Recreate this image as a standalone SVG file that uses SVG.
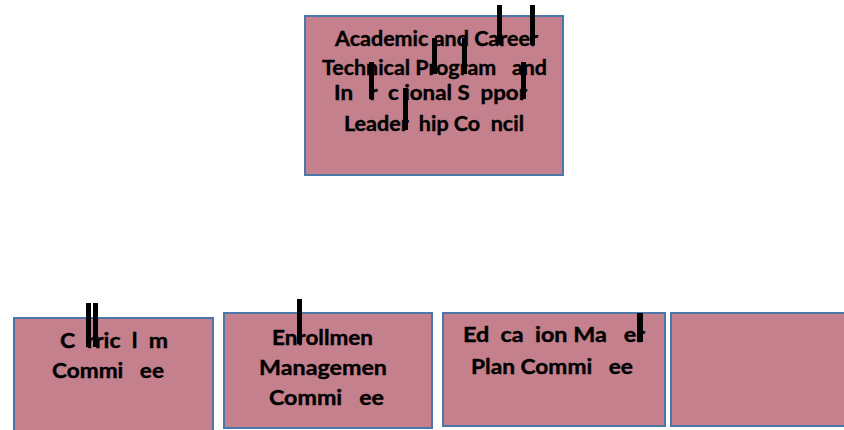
<svg xmlns="http://www.w3.org/2000/svg" width="844" height="430" viewBox="0 0 844 430">
<style>
.box{fill:#C4808C;stroke:#4A76A8;stroke-width:2}
.t{font-family:Lato,"Liberation Sans",sans-serif;font-weight:700;font-size:21.5px;fill:#000;stroke:#000;stroke-width:0.4;white-space:pre}
.bar{fill:#000}
</style>
<rect width="844" height="430" fill="#fff"/>
<g id="node-council">
<rect class="box" x="305" y="16" width="258" height="159"/>
<text class="t" x="335" y="46" textLength="203" lengthAdjust="spacingAndGlyphs" xml:space="preserve">Academic and Career</text>
<text class="t" x="322" y="75" textLength="225" lengthAdjust="spacingAndGlyphs" xml:space="preserve">Technical Program   and</text>
<text class="t" x="334" y="100" textLength="193" lengthAdjust="spacingAndGlyphs" xml:space="preserve">In   r  c ional S  ppor</text>
<text class="t" x="344" y="131" textLength="180" lengthAdjust="spacingAndGlyphs" xml:space="preserve">Leader  hip Co  ncil</text>
<rect class="bar" x="497" y="5" width="5" height="40"/>
<rect class="bar" x="530" y="5" width="5" height="40"/>
<rect class="bar" x="432" y="38" width="5" height="36"/>
<rect class="bar" x="462" y="38" width="5" height="36"/>
<rect class="bar" x="369" y="62" width="5" height="37"/>
<rect class="bar" x="521" y="62" width="5" height="37"/>
<rect class="bar" x="403" y="88" width="5" height="42"/>
</g>
<g id="node-curriculum">
<rect class="box" x="14" y="318" width="199" height="120"/>
<text class="t" x="60" y="348" textLength="108" lengthAdjust="spacingAndGlyphs" xml:space="preserve">C  rric  l  m</text>
<text class="t" x="52" y="378" textLength="112" lengthAdjust="spacingAndGlyphs" xml:space="preserve">Commi   ee</text>
<rect class="bar" x="86" y="303" width="5" height="44"/>
<rect class="bar" x="93" y="303" width="5" height="44"/>
</g>
<g id="node-enrollment">
<rect class="box" x="224" y="313" width="208" height="115"/>
<text class="t" x="272" y="345" textLength="101" lengthAdjust="spacingAndGlyphs" xml:space="preserve">Enrollmen</text>
<text class="t" x="259" y="375" textLength="128" lengthAdjust="spacingAndGlyphs" xml:space="preserve">Managemen</text>
<text class="t" x="269" y="405" textLength="115" lengthAdjust="spacingAndGlyphs" xml:space="preserve">Commi   ee</text>
<rect class="bar" x="297" y="299" width="5" height="45"/>
</g>
<g id="node-education">
<rect class="box" x="443" y="313" width="222" height="113"/>
<text class="t" x="463" y="342" textLength="182" lengthAdjust="spacingAndGlyphs" xml:space="preserve">Ed  ca  ion Ma   er</text>
<text class="t" x="471" y="374" textLength="162" lengthAdjust="spacingAndGlyphs" xml:space="preserve">Plan Commi   ee</text>
<rect class="bar" x="637" y="313" width="6" height="29"/>
</g>
<g id="node-empty">
<rect class="box" x="671" y="313" width="185" height="113"/>
</g>
<g id="connectors"/>
</svg>
